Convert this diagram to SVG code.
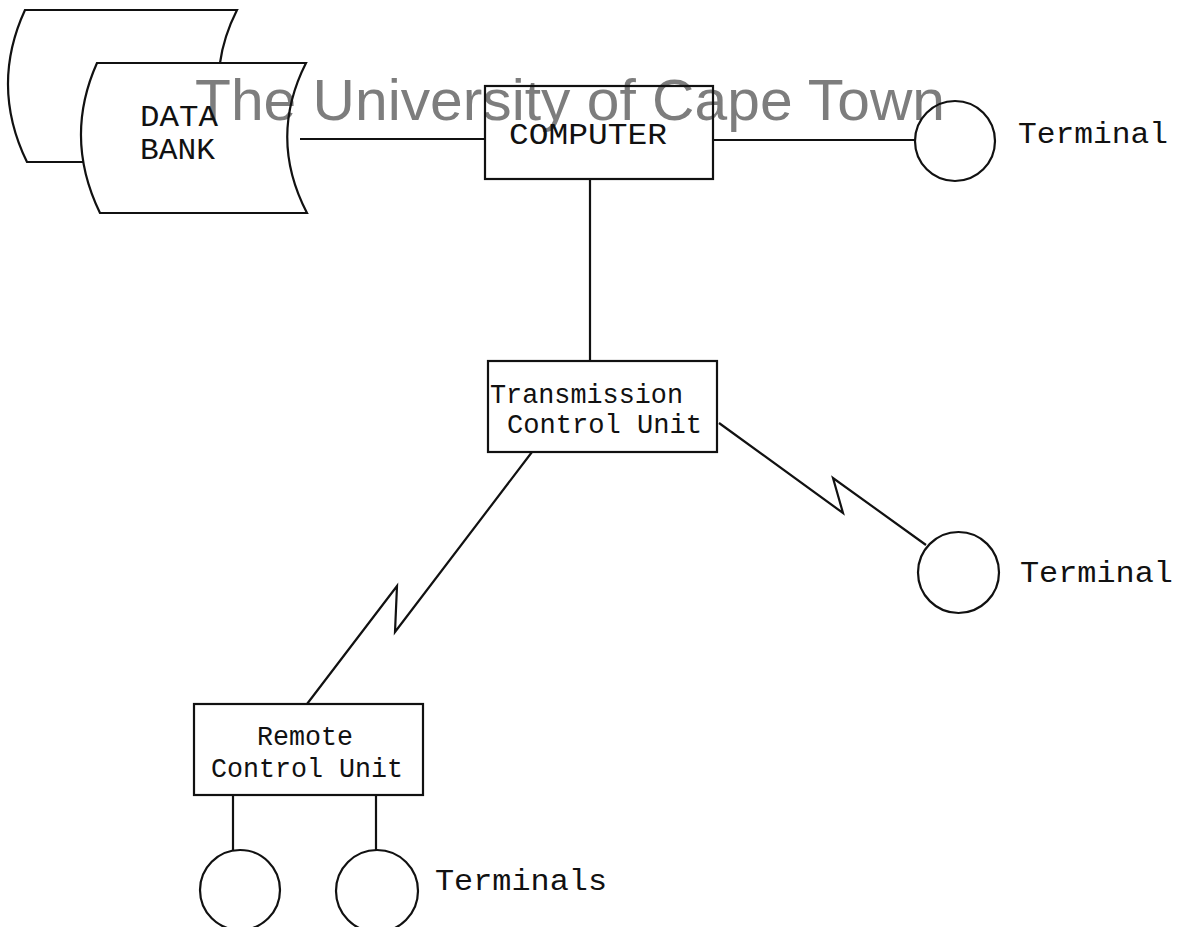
<svg xmlns="http://www.w3.org/2000/svg" width="1185" height="927" viewBox="0 0 1185 927">
<style>
.ln{fill:none;stroke:#111;stroke-width:2.2;stroke-linejoin:miter}
.tw{font-family:"Liberation Mono","Courier New",monospace;font-size:30px;fill:#111}
.tw2{font-family:"Liberation Mono","Courier New",monospace;font-size:27px;fill:#111}
.wm{font-family:"Liberation Sans",Arial,sans-serif;font-size:57px;fill:#7d7d7d}
</style>
<rect width="1185" height="927" fill="#fff"/>
<text class="wm" x="195" y="120" textLength="750" lengthAdjust="spacingAndGlyphs">The University of Cape Town</text>
<g id="connectors">
<line class="ln" x1="300" y1="139" x2="485" y2="139"/>
<line class="ln" x1="713" y1="140" x2="915" y2="140"/>
<line class="ln" x1="590" y1="179" x2="590" y2="361"/>
<polyline class="ln" points="532,452 395,632 397,586 307,704"/>
<polyline class="ln" points="719,423 843,513 833,478 926,545"/>
<line class="ln" x1="233" y1="795" x2="233" y2="850"/>
<line class="ln" x1="376" y1="795" x2="376" y2="850"/>
</g>
<g id="databank">
<path class="ln" d="M220,63 Q223.6,36.5 237,10 L25,10 Q-10,86 27,162 L83,162"/>
<path class="ln" d="M97,63 L306,63 Q268,138 307,213 L100,213 Q63.5,138 97,63 Z"/>
<text class="tw" x="140" y="126" textLength="78" lengthAdjust="spacingAndGlyphs">DATA</text>
<text class="tw" x="140" y="159" textLength="75" lengthAdjust="spacingAndGlyphs">BANK</text>
</g>
<g id="computer">
<rect class="ln" x="485" y="86" width="228" height="93"/>
<text class="tw" x="509" y="144" textLength="158" lengthAdjust="spacingAndGlyphs">COMPUTER</text>
</g>
<g id="terminal-top">
<circle class="ln" cx="955" cy="141" r="40"/>
<text class="tw" x="1018" y="143" textLength="150" lengthAdjust="spacingAndGlyphs">Terminal</text>
</g>
<g id="tcu">
<rect class="ln" x="488" y="361" width="229" height="91"/>
<text class="tw2" x="490" y="403" textLength="193" lengthAdjust="spacingAndGlyphs">Transmission</text>
<text class="tw2" x="507" y="433" textLength="195" lengthAdjust="spacingAndGlyphs">Control Unit</text>
</g>
<g id="terminal-mid">
<circle class="ln" cx="958.5" cy="572.5" r="40.5"/>
<text class="tw" x="1020" y="582" textLength="153" lengthAdjust="spacingAndGlyphs">Terminal</text>
</g>
<g id="rcu">
<rect class="ln" x="194" y="704" width="229" height="91"/>
<text class="tw2" x="257" y="745" textLength="96" lengthAdjust="spacingAndGlyphs">Remote</text>
<text class="tw2" x="211" y="777" textLength="192" lengthAdjust="spacingAndGlyphs">Control Unit</text>
</g>
<g id="terminals">
<circle class="ln" cx="240" cy="890" r="40"/>
<circle class="ln" cx="377" cy="891" r="41"/>
<text class="tw" x="435" y="890" textLength="172" lengthAdjust="spacingAndGlyphs">Terminals</text>
</g>
</svg>
